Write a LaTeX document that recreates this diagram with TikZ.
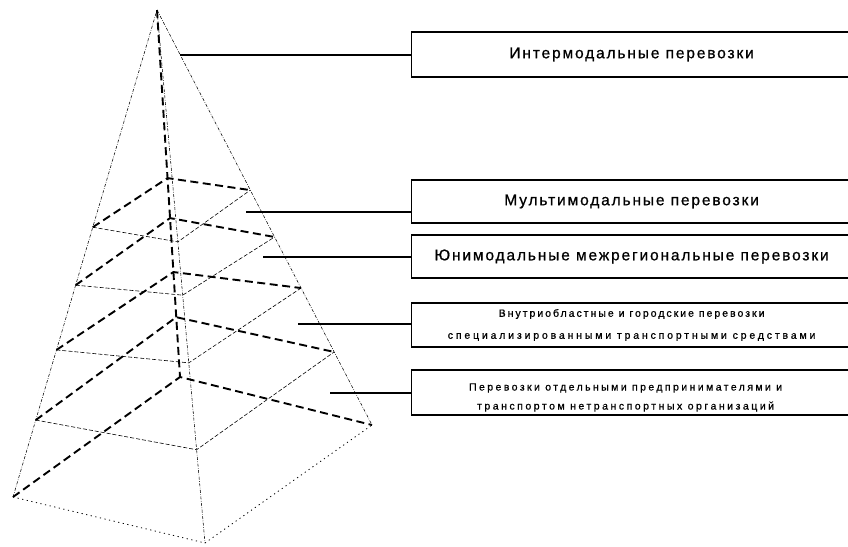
\documentclass[tikz,border=0pt]{standalone}
\usepackage{fontspec}
\setmainfont{Liberation Sans}
\usetikzlibrary{calc}
\newcommand\largelabel{\fontsize{15.5}{18}\selectfont\addfontfeature{LetterSpace=12,FakeBold=0.8}}
\newcommand\smalllabel{\fontsize{10.5}{12}\selectfont\addfontfeature{FakeBold=0.8}}
\newcommand\spaced[2]{{\addfontfeature{LetterSpace=#1}#2}}
\begin{document}
\begin{tikzpicture}[x=1pt,y=-1pt,
  edgeline/.style={line width=0.55pt, dash pattern=on 3pt off 1.5pt on 0.6pt off 1.5pt},
  secfront/.style={line width=0.6pt, dash pattern=on 4pt off 2pt},
  basefront/.style={line width=0.8pt, dash pattern=on 1.2pt off 3.5pt},
  hidden/.style={line width=1.9pt, dash pattern=on 8pt off 4.5pt},
  conn/.style={line width=1.6pt},
  tbox/.style={draw, line width=1.2pt, anchor=west, minimum width=440pt,
    inner sep=0pt, align=center},
  btext/.style={inner sep=0pt, align=center}]
\useasboundingbox (0,0) rectangle (848,546);
\fill[white] (0,0) rectangle (848,546);

% apex and base corners
\coordinate (A) at (157,10);
\coordinate (B5) at (180,377);
\coordinate (L5) at (13,497);
\coordinate (F5) at (205,543);
\coordinate (R5) at (372,425);

% cross sections: back, left, front and right corners on the edges
\foreach \i/\tb/\tl/\tf/\tr in {1/0.458/0.446/0.435/0.434,
                                2/0.567/0.565/0.535/0.547,
                                3/0.714/0.698/0.662/0.670,
                                4/0.837/0.842/0.825/0.824}{
  \coordinate (B\i) at ($(A)!\tb!(B5)$);
  \coordinate (L\i) at ($(A)!\tl!(L5)$);
  \coordinate (F\i) at ($(A)!\tf!(F5)$);
  \coordinate (R\i) at ($(A)!\tr!(R5)$);
}

% hidden edges
\draw[hidden] (A) -- (B5);
\foreach \i in {1,...,5} \draw[hidden] (L\i) -- (B\i) -- (R\i);

% visible edges
\draw[edgeline] (L5) -- (A) -- (R5);
\draw[edgeline] (A) -- (F5);
\draw[basefront] (L5) -- (F5) -- (R5);
\foreach \i in {1,...,4} \draw[secfront] (L\i) -- (F\i) -- (R\i);

% label boxes
\node[tbox, minimum height=45pt, font=\largelabel] (b1) at (411,54.5)
  {Интермодальные перевозки};
\node[tbox, minimum height=43pt, font=\largelabel] (b2) at (411,201.5)
  {Мультимодальные перевозки};
\node[tbox, minimum height=43pt, font=\largelabel] (b3) at (411,256.5)
  {Юнимодальные межрегиональные перевозки};
\node[tbox, minimum height=44pt, font=\smalllabel] (b4) at (411,325)
  {\spaced{19}{Внутриобластные и городские перевозки}\\[10pt]
   \spaced{27}{специализированными транспортными средствами}};
\node[tbox, minimum height=45pt] (b5) at (411,392.5) {};
\node[btext, font=\smalllabel] (t5) at ($(b5.center)+(-6,5)$)
  {\spaced{23}{Перевозки отдельными предпринимателями и}\\[7pt]
   \spaced{24}{транспортом нетранспортных организаций}};

% leaders from the pyramid to the boxes
\coordinate (c1) at (180,55);
\coordinate (c2) at (246,212);
\coordinate (c3) at (263,257);
\coordinate (c4) at (298,324);
\coordinate (c5) at (330,393);
\foreach \i in {1,...,5} \draw[conn] (c\i) -- (c\i -| b\i.west);
\end{tikzpicture}
\end{document}
